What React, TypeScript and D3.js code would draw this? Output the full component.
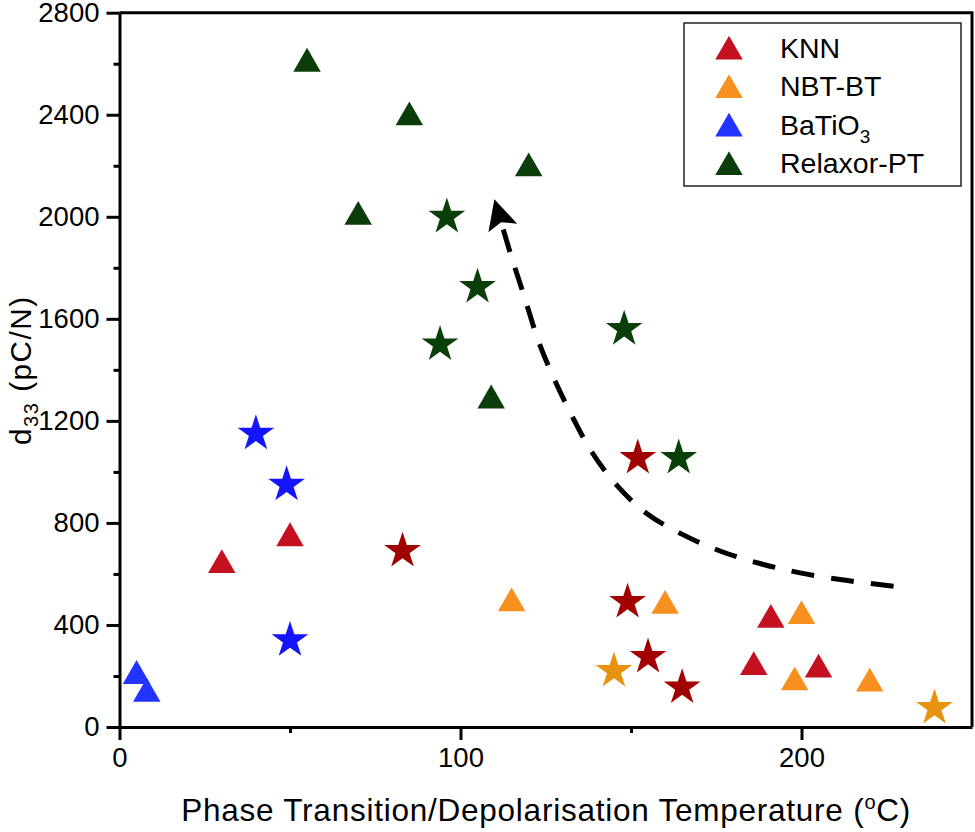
import React, { useEffect, useRef } from "react";
import * as d3 from "d3";

// values
const knnTriX = [30, 50, 186, 191, 205];
const knnTriY = [635, 740, 235, 420, 225];
const knnStarX = [83, 149, 155, 165, 152];
const knnStarY = [690, 490, 275, 155, 1055];

const nbtTriX = [115, 160, 200, 198, 220];
const nbtTriY = [485, 475, 435, 175, 170];
const nbtStarX = [145, 239];
const nbtStarY = [220, 75];

const btoTriX = [5, 8];
const btoTriY = [200, 130];
const btoStarX = [40, 49, 50];
const btoStarY = [1150, 950, 340];

const relTriX = [55, 85, 120, 70, 109];
const relTriY = [2600, 2390, 2190, 2000, 1280];
const relStarX = [96, 105, 94, 148, 164];
const relStarY = [2000, 1725, 1500, 1560, 1055];

// dashed guide arrow, from the right end up to the arrow head
const arrowX = [227, 214, 199.6, 187.8, 176.1, 164.9, 154.6, 145.8, 138.5, 132.6, 127.2, 122.8, 118.9, 115, 112];
const arrowY = [552, 573, 604, 641, 690, 756, 837, 948, 1078, 1222, 1372, 1515, 1679, 1841, 1975];

const legendNames = ["KNN", "NBT-BT", "BaTiO", "Relaxor-PT"];
const xTicks = [0, 100, 200];
const xMinor = [50, 150];
const yTicks = [0, 400, 800, 1200, 1600, 2000, 2400, 2800];
const yMinor = [200, 600, 1000, 1400, 1800, 2200, 2600];

const App = () => {
  const svgRef = useRef<SVGSVGElement | null>(null);

  useEffect(() => {
    const width = 975;
    const height = 832;
    const margin = { top: 12.7, right: 3, bottom: 105, left: 119.5 };
    const font = "'Liberation Sans', Arial, sans-serif";

    const svg = d3.select(svgRef.current).attr("width", width).attr("height", height);
    svg.selectAll("*").remove();

    const x = d3.scaleLinear().domain([0, 250]).range([margin.left, width - margin.right]);
    const y = d3.scaleLinear().domain([0, 2800]).range([height - margin.bottom, margin.top]);

    // frame top & right
    svg
      .append("path")
      .attr("d", `M${x(0)},${y(2800)}H${x(250)}V${y(0)}`)
      .attr("fill", "none")
      .attr("stroke", "black")
      .attr("stroke-width", 3);

    const styleAxis = (g) => {
      g.selectAll("path, line").attr("stroke", "black").attr("stroke-width", 3);
      g.selectAll("text").attr("font-family", font).attr("font-size", 27.5).attr("fill", "black");
    };

    svg
      .append("g")
      .attr("transform", `translate(0,${y(0)})`)
      .call(d3.axisBottom(x).tickValues(xMinor).tickSize(6).tickFormat(() => ""))
      .call(styleAxis)
      .call((g) => g.select(".domain").remove());
    svg
      .append("g")
      .attr("transform", `translate(${x(0)},0)`)
      .call(d3.axisLeft(y).tickValues(yMinor).tickSize(6).tickFormat(() => ""))
      .call(styleAxis)
      .call((g) => g.select(".domain").remove());

    svg
      .append("g")
      .attr("transform", `translate(0,${y(0)})`)
      .call(
        d3.axisBottom(x).tickValues(xTicks).tickSize(13).tickSizeOuter(0).tickPadding(7).tickFormat(d3.format("d"))
      )
      .call(styleAxis);
    svg
      .append("g")
      .attr("transform", `translate(${x(0)},0)`)
      .call(
        d3.axisLeft(y).tickValues(yTicks).tickSize(13).tickSizeOuter(0).tickPadding(7).tickFormat(d3.format("d"))
      )
      .call(styleAxis);

    // axis titles
    const xt = svg
      .append("text")
      .attr("x", (x(0) + x(250)) / 2)
      .attr("y", 820.5)
      .attr("text-anchor", "middle")
      .attr("font-family", font)
      .attr("font-size", 31.5)
      .attr("textLength", 729)
      .attr("lengthAdjust", "spacing")
      .text("Phase Transition/Depolarisation Temperature (");
    xt.append("tspan").attr("font-size", 20).attr("dy", -12).text("o");
    xt.append("tspan").attr("dy", 12).text("C)");

    const yt = svg
      .append("text")
      .attr("transform", `translate(31,371) rotate(-90)`)
      .attr("text-anchor", "middle")
      .attr("font-family", font)
      .attr("font-size", 29.5)
      .attr("textLength", 148)
      .attr("lengthAdjust", "spacing")
      .text("d");
    yt.append("tspan").attr("font-size", 20).attr("dy", 7).text("33");
    yt.append("tspan").attr("dy", -7).text(" (pC/N)");

    // arrow
    const defs = svg.append("defs");
    defs
      .append("marker")
      .attr("id", "head")
      .attr("markerUnits", "userSpaceOnUse")
      .attr("viewBox", "0 -16 32 32")
      .attr("markerWidth", 32)
      .attr("markerHeight", 32)
      .attr("refX", 5)
      .attr("refY", 0)
      .attr("orient", "auto")
      .append("path")
      .attr("d", "M30,0L0,-15L6,0L0,15Z")
      .attr("fill", "black")
      .attr("stroke", "none");

    const line = d3
      .line<number>()
      .x((d, i) => x(arrowX[i]))
      .y((d, i) => y(arrowY[i]))
      .curve(d3.curveCatmullRom.alpha(0.5));

    svg
      .append("path")
      .attr("d", line(arrowX))
      .attr("fill", "none")
      .attr("stroke", "black")
      .attr("stroke-width", 5)
      .attr("stroke-dasharray", "23 17")
      .attr("marker-end", "url(#head)");

    // markers
    const tri = d3.symbol().type(d3.symbolTriangle).size(327);
    const star = d3.symbol().type(d3.symbolStar).size(418);

    const series = [
      { xs: btoTriX, ys: btoTriY, shape: tri, color: "#2234ff" },
      { xs: btoStarX, ys: btoStarY, shape: star, color: "#1414ff" },
      { xs: knnTriX, ys: knnTriY, shape: tri, color: "#c4101f" },
      { xs: knnStarX, ys: knnStarY, shape: star, color: "#a20000" },
      { xs: nbtTriX, ys: nbtTriY, shape: tri, color: "#f7901e" },
      { xs: nbtStarX, ys: nbtStarY, shape: star, color: "#e8930f" },
      { xs: relTriX, ys: relTriY, shape: tri, color: "#0b3d0b" },
      { xs: relStarX, ys: relStarY, shape: star, color: "#0a3f0a" },
    ];

    series.forEach((s) => {
      svg
        .append("g")
        .selectAll("path")
        .data(s.xs)
        .enter()
        .append("path")
        .attr("d", s.shape())
        .attr("transform", (d, i) => `translate(${x(d)},${y(s.ys[i])})`)
        .attr("fill", s.color);
    });

    // legend
    const legendColors = ["#c4101f", "#f7901e", "#2234ff", "#0b3d0b"];
    const lg = svg.append("g");
    lg.append("rect")
      .attr("x", 684)
      .attr("y", 23)
      .attr("width", 277)
      .attr("height", 163)
      .attr("fill", "white")
      .attr("stroke", "#222")
      .attr("stroke-width", 1.5);

    legendNames.forEach((name, i) => {
      const cy = 51.5 + i * 38.5;
      lg.append("path")
        .attr("d", tri())
        .attr("transform", `translate(729,${cy})`)
        .attr("fill", legendColors[i]);
      const t = lg
        .append("text")
        .attr("x", 780)
        .attr("y", cy + 6)
        .attr("font-family", font)
        .attr("font-size", 28.5)
        .text(name);
      if (name === "BaTiO") {
        t.append("tspan").attr("font-size", 19).attr("dy", 8).text("3");
      }
    });
  }, []);

  return (
    <div style={{ position: "absolute", left: 0, top: 0 }}>
      <svg ref={svgRef}></svg>
    </div>
  );
};

export default App;
